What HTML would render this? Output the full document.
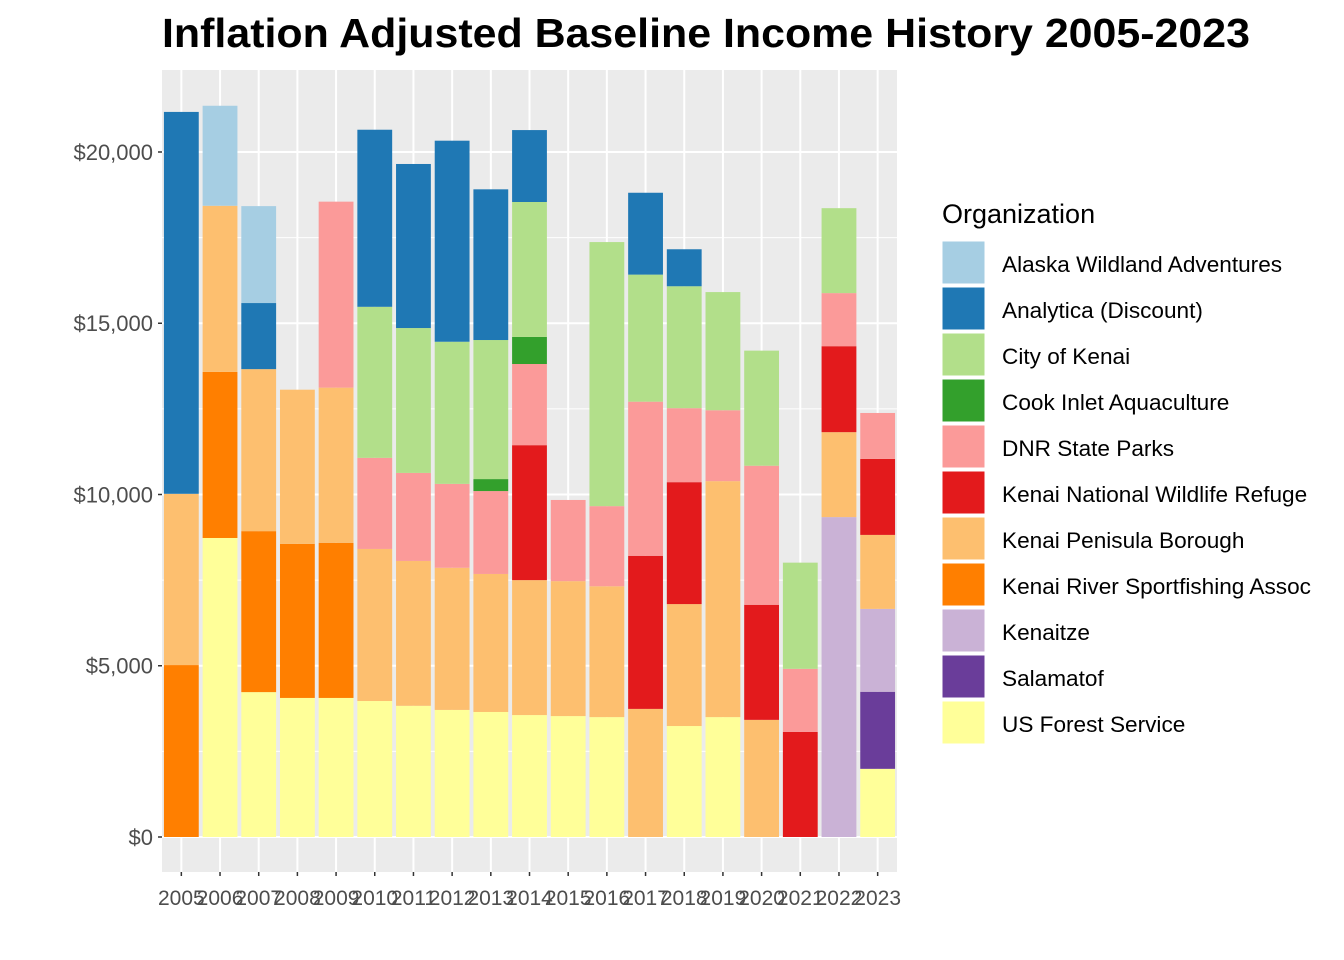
<!DOCTYPE html>
<html><head><meta charset="utf-8"><style>
html,body{margin:0;padding:0;background:#fff;}
svg{display:block;font-family:"Liberation Sans",Arial,sans-serif;}
</style></head><body>
<svg id="chart" width="1344" height="960">
<text x="706" y="47" text-anchor="middle" font-size="41" font-weight="bold" fill="#000" textLength="1088" lengthAdjust="spacingAndGlyphs">Inflation Adjusted Baseline Income History 2005-2023</text>
<rect x="162" y="70" width="735" height="802" fill="#EBEBEB"/>
<g id="grid"></g><g id="bars"></g><g id="axes"></g><g id="legend"></g>
</svg>
<script>
const years = ["2005","2006","2007","2008","2009","2010","2011","2012","2013","2014","2015","2016","2017","2018","2019","2020","2021","2022","2023"];
const orgs = ["Alaska Wildland Adventures","Analytica (Discount)","City of Kenai","Cook Inlet Aquaculture","DNR State Parks","Kenai National Wildlife Refuge","Kenai Penisula Borough","Kenai River Sportfishing Assoc","Kenaitze","Salamatof","US Forest Service"];
const colors = ["#A6CEE3","#1F78B4","#B2DF8A","#33A02C","#FB9A99","#E31A1C","#FDBF6F","#FF7F00","#CAB2D6","#6A3D9A","#FFFF99"];
const alaskaWildland = [0,2920,2830,0,0,0,0,0,0,0,0,0,0,0,0,0,0,0,0];
const analytica = [11150,0,1930,0,0,5170,4790,5870,4400,2100,0,0,2390,1080,0,0,0,0,0];
const cityOfKenai = [0,0,0,0,0,4410,4230,4150,4060,3940,0,7710,3710,3560,3450,3360,3100,2480,0];
const cookInlet = [0,0,0,0,0,0,0,0,350,790,0,0,0,0,0,0,0,0,0];
const dnrStateParks = [0,0,0,0,5430,2660,2570,2450,2420,2370,2370,2340,4500,2160,2070,4060,1840,1550,1340];
const kenaiNWR = [0,0,0,0,0,0,0,0,0,3940,0,0,4470,3560,0,3360,3070,2510,2220];
const kenaiBorough = [5000,4850,4730,4500,4530,4440,4230,4150,4030,3940,3940,3820,3740,3560,6890,3420,0,2480,2160];
const kenaiRiverSport = [5020,4850,4700,4500,4530,0,0,0,0,0,0,0,0,0,0,0,0,0,0];
const kenaitze = [0,0,0,0,0,0,0,0,0,0,0,0,0,0,0,0,0,9340,2420];
const salamatof = [0,0,0,0,0,0,0,0,0,0,0,0,0,0,0,0,0,0,2250];
const usForestService = [0,8730,4230,4060,4060,3970,3830,3710,3650,3560,3530,3500,0,3240,3500,0,0,0,1990];
const yTicks = [0,5000,10000,15000,20000];
const yTickLabels = ["$0","$5,000","$10,000","$15,000","$20,000"];

const series = [alaskaWildland,analytica,cityOfKenai,cookInlet,dnrStateParks,kenaiNWR,kenaiBorough,kenaiRiverSport,kenaitze,salamatof,usForestService];
const NS="http://www.w3.org/2000/svg";
const px0=162,px1=897,py0=70,py1=872;
const yMin=-1022,yMax=22394;
const y=v=>py1-(v-yMin)/(yMax-yMin)*(py1-py0);
const band=(px1-px0)/years.length;
const x=i=>px0+band*(i+0.5);
function mk(tag,attrs,parent){const e=document.createElementNS(NS,tag);for(const k in attrs)e.setAttribute(k,attrs[k]);parent.appendChild(e);return e;}
const grid=document.getElementById('grid'),bars=document.getElementById('bars'),axes=document.getElementById('axes'),legend=document.getElementById('legend');
for(let t=2500;t<yMax;t+=5000){const l=mk('line',{x1:px0,x2:px1,y1:y(t),y2:y(t),stroke:'#fff','stroke-width':1},grid);

}
yTicks.forEach((t,i)=>{const l=mk('line',{x1:px0,x2:px1,y1:y(t),y2:y(t),stroke:'#fff','stroke-width':2},grid);


const tk=mk('line',{x1:px0-4,x2:px0,y1:y(t),y2:y(t),stroke:'#333','stroke-width':1.5},axes);


const tx=mk('text',{x:px0-9,y:y(t)+8,'text-anchor':'end','font-size':22,fill:'#4D4D4D'},axes);
tx.textContent=yTickLabels[i];

});
years.forEach((yr,i)=>{const l=mk('line',{x1:x(i),x2:x(i),y1:py0,y2:py1,stroke:'#fff','stroke-width':2},grid);


const tk=mk('line',{x1:x(i),x2:x(i),y1:py1,y2:py1+4,stroke:'#333','stroke-width':1.5},axes);


const tx=mk('text',{x:x(i),y:905,'text-anchor':'middle','font-size':21,fill:'#4D4D4D'},axes);
tx.textContent=yr;


let cum=0;const bw=band*0.9;
for(let s=series.length-1;s>=0;s--){const v=series[s][i];if(!v)continue;
const r=mk('rect',{x:x(i)-bw/2,y:y(cum+v),width:bw,height:y(cum)-y(cum+v),fill:colors[s]},bars);


cum+=v;}});
const lt=mk('text',{x:942,y:223,'font-size':27,fill:'#000'},legend);
lt.textContent='Organization';


orgs.forEach((o,i)=>{const yy=241+i*46;
const k=mk('rect',{x:942,y:yy,width:43,height:43,fill:colors[i],stroke:'#fff','stroke-width':1},legend);


const t=mk('text',{x:1002,y:yy+31,'font-size':22.6,fill:'#000'},legend);
t.textContent=o;

});
</script>
</body></html>
